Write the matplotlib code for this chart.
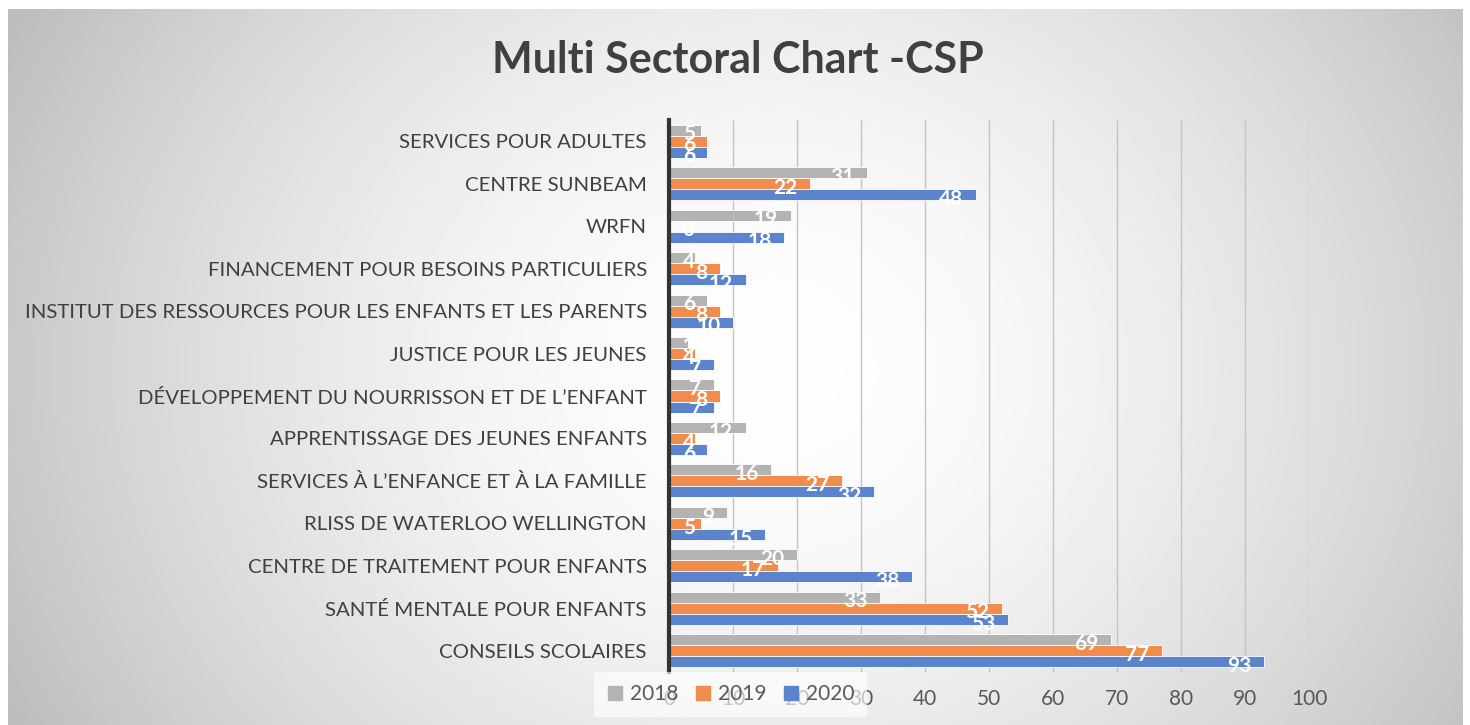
import numpy as np
import matplotlib
matplotlib.use("Agg")
import matplotlib.pyplot as plt
from matplotlib.lines import Line2D

categories = [
    "CONSEILS SCOLAIRES",
    "SANTÉ MENTALE POUR ENFANTS",
    "CENTRE DE TRAITEMENT POUR ENFANTS",
    "RLISS DE WATERLOO WELLINGTON",
    "SERVICES À L’ENFANCE ET À LA FAMILLE",
    "APPRENTISSAGE DES JEUNES ENFANTS",
    "DÉVELOPPEMENT DU NOURRISSON ET DE L’ENFANT",
    "JUSTICE POUR LES JEUNES",
    "INSTITUT DES RESSOURCES POUR LES ENFANTS ET LES PARENTS",
    "FINANCEMENT POUR BESOINS PARTICULIERS",
    "WRFN",
    "CENTRE SUNBEAM",
    "SERVICES POUR ADULTES",
]
v2018 = [69, 33, 20, 9, 16, 12, 7, 3, 6, 4, 19, 31, 5]
v2019 = [77, 52, 17, 5, 27, 4, 8, 4, 8, 8, 0, 22, 6]
v2020 = [93, 53, 38, 15, 32, 6, 7, 7, 10, 12, 18, 48, 6]
series_names = ["2018", "2019", "2020"]
colors = ["#b3b3b3", "#f08d4d", "#5b84cc"]
xticks = [0, 10, 20, 30, 40, 50, 60, 70, 80, 90, 100]

W, H = 1470, 725
fig = plt.figure(figsize=(W / 100, H / 100), dpi=100)
fig.patch.set_facecolor("white")

# background gradient panel
bg = fig.add_axes([8 / W, 0, (1462 - 8) / W, (H - 9) / H])
bg.set_axis_off()
yy, xx = np.mgrid[0:716, 0:1454]
d = np.sqrt(((xx - 760) / 1.0) ** 2 + ((yy - 360) * 1.15) ** 2)
g = 255 - 64 * (d / 840) ** 1.7
g = np.clip(g, 190, 255) / 255.0
bg.imshow(np.dstack([g, g, g]), aspect="auto", extent=[0, 1, 0, 1])
bg.set_xlim(0, 1); bg.set_ylim(0, 1)

ax = fig.add_axes([669 / W, 53 / H, 640 / W, 552 / H])
ax.patch.set_alpha(0)
n = len(categories)
y = np.arange(n)
h = 0.26
offsets = [h, 0, -h]
for vals, off, c, name in zip([v2018, v2019, v2020], offsets, colors, series_names):
    ax.barh(y + off, vals, height=h, color=c, edgecolor="white", linewidth=0.6,
            label=name, zorder=3)
    for yi, v in zip(y, vals):
        ax.annotate(str(v), xy=(max(v, 6), yi + off), xytext=(-9, -3),
                    textcoords="offset points", ha="right", va="center",
                    color="white", fontsize=15, fontweight="bold",
                    family="Lato", zorder=4)

ax.set_xlim(0, 100)
ax.set_ylim(-0.5, n - 0.5)
ax.set_xticks(xticks)
ax.set_xticklabels([str(t) for t in xticks], fontsize=15, color="#595959", family="Lato")
ax.set_yticks(y)
ax.set_yticklabels(categories, fontsize=14.7, color="#404040", family="Lato")
ax.tick_params(axis="x", length=0, pad=12)
ax.tick_params(axis="y", length=0, pad=16)
ax.grid(axis="x", color="#c4c4c4", linewidth=1, zorder=0)
for s in ["top", "right", "bottom"]:
    ax.spines[s].set_visible(False)
ax.spines["left"].set_linewidth(3)
ax.spines["left"].set_color("#333333")
ax.spines["left"].set_zorder(5)

fig.text(738 / W, 1 - 60 / H, "Multi Sectoral Chart -CSP", ha="center", va="center",
         fontsize=31, fontweight="bold", color="#404040", family="Lato")

handles = [Line2D([], [], marker="s", linestyle="none", markersize=10,
                  markerfacecolor=c, markeredgecolor=c) for c in colors]
leg = fig.legend(handles, series_names, loc="center left",
                 bbox_to_anchor=(588 / W, 1 - 694 / H), ncol=3, frameon=True,
                 handlelength=0.8, handletextpad=0.3, columnspacing=0.8,
                 prop={"family": "Lato", "size": 15})
leg.get_frame().set_facecolor("white")
leg.get_frame().set_alpha(0.65)
leg.get_frame().set_edgecolor("none")
leg.get_frame().set_boxstyle("square", pad=0.2)
for t in leg.get_texts():
    t.set_color("#595959")

fig.savefig("out.png", dpi=100)
